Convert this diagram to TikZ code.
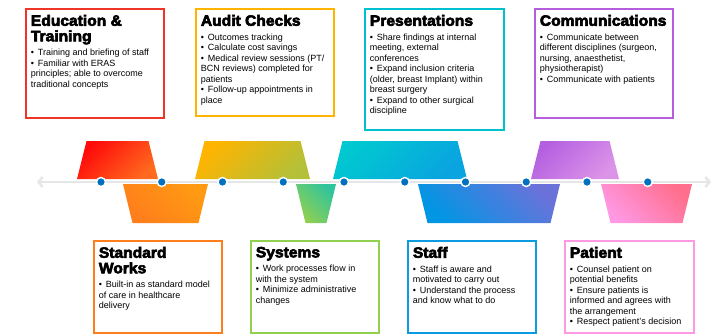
\documentclass[tikz,border=0pt]{standalone}
\usepackage{fontspec}
\setmainfont{Liberation Sans}
\newfontfamily\titlefont{Liberation Sans}[BoldFeatures={FakeBold=4,FakeStretch=1.04}]
\usepackage{tikz}
\usetikzlibrary{arrows.meta}
\definecolor{cred}{HTML}{F0342A}
\definecolor{cyellow}{HTML}{FFB400}
\definecolor{ccyan}{HTML}{00C2CE}
\definecolor{cpurple}{HTML}{B45EDD}
\definecolor{corange}{HTML}{FF7E1C}
\definecolor{cgreen}{HTML}{92D050}
\definecolor{cblue}{HTML}{0A9BE3}
\definecolor{cpink}{HTML}{FF99E4}
\definecolor{dotblue}{HTML}{0070C0}
\definecolor{linegrey}{HTML}{E6E6E6}
% shading ends
\definecolor{redA}{HTML}{FF0A0A}
\definecolor{redB}{HTML}{FF6A1E}
\definecolor{yelB}{HTML}{B4C038}
\definecolor{cyaA}{HTML}{00C8D0}
\definecolor{cyaB}{HTML}{0AA4E0}
\definecolor{purA}{HTML}{B460E0}
\definecolor{purB}{HTML}{DC94E8}
\definecolor{oraB}{HTML}{FF9A12}
\definecolor{greB}{HTML}{30C49C}
\definecolor{bluA}{HTML}{0096E4}
\definecolor{bluB}{HTML}{6A72DA}
\definecolor{pinB}{HTML}{FF6E8C}
\tikzstyle{infobox}=[draw, line width=1.8pt, inner xsep=5pt, inner ysep=6pt, anchor=north west, fill=white]
\tikzstyle{dot}=[circle, fill=dotblue, draw=white, line width=1.4pt, inner sep=0pt, minimum size=9pt]
\tikzstyle{timeline}=[line width=2.5pt, draw=linegrey, {Straight Barb[length=4pt,width=10pt]}-{Straight Barb[length=4pt,width=10pt]}]
\newcommand{\ttl}[1]{{\titlefont\bfseries\fontsize{15}{15.5}\selectfont #1\par}\vspace{4pt}}
\newcommand{\bitem}{\par\hangindent=7pt\hangafter=1\noindent\makebox[7pt][l]{\textbullet}}
\newcommand{\boxtext}[3]{\parbox[c][#1][t]{#2}{\raggedright\fontsize{9}{10.5}\selectfont #3}}
\newcommand{\uptrap}[5]{\shade[top color=#3, middle color=#4, bottom color=#5, shading angle=45]
    (#1,179) -- ({#1+9.5},141) -- ({#2-9.5},141) -- (#2,179) -- cycle;}
\newcommand{\lowtrap}[4]{\shade[top color=#4, middle color=#3, bottom color=#3, shading angle=-45]
    (#1,184) -- ({#1+9.5},223) -- ({#2-9.5},223) -- (#2,184) -- cycle;}

\begin{document}
\begin{tikzpicture}[x=1pt, y=-1pt]
    \useasboundingbox (0,0) rectangle (717,335);
    % upper boxes
    \node[infobox, draw=cred] (edu) at (25,8) {\boxtext{97pt}{128pt}{\ttl{Education \&\\Training}
        \bitem Training and briefing of staff
        \bitem Familiar with ERAS\\principles; able to overcome\\traditional concepts}};
    \node[infobox, draw=cyellow] (audit) at (195,8) {\boxtext{95pt}{128pt}{\ttl{Audit Checks}
        \bitem Outcomes tracking
        \bitem Calculate cost savings
        \bitem Medical review sessions (PT/\\BCN reviews) completed for\\patients
        \bitem Follow-up appointments in\\place}};
    \node[infobox, draw=ccyan] (pres) at (364,8) {\boxtext{109pt}{129pt}{\ttl{Presentations}
        \bitem Share findings at internal\\meeting, external\\conferences
        \bitem Expand inclusion criteria\\(older, breast Implant) within\\breast surgery
        \bitem Expand to other surgical\\discipline}};
    \node[infobox, draw=cpurple] (comm) at (534,8) {\boxtext{97pt}{128pt}{\ttl{Communications}
        \bitem Communicate between\\different disciplines (surgeon,\\nursing, anaesthetist,\\physiotherapist)
        \bitem Communicate with patients}};
    % lower boxes
    \node[infobox, draw=corange] (stdw) at (93,240) {\boxtext{80pt}{118pt}{\ttl{Standard\\Works}
        \bitem Built-in as standard model\\of care in healthcare\\delivery}};
    \node[infobox, draw=cgreen] (sys) at (250,240) {\boxtext{80pt}{118pt}{\ttl{Systems}
        \bitem Work processes flow in\\with the system
        \bitem Minimize administrative\\changes}};
    \node[infobox, draw=cblue] (staff) at (407,240) {\boxtext{80pt}{118pt}{\ttl{Staff}
        \bitem Staff is aware and\\motivated to carry out
        \bitem Understand the process\\and know what to do}};
    \node[infobox, draw=cpink] (pat) at (564,240) {\boxtext{80pt}{119pt}{\ttl{Patient}
        \bitem Counsel patient on\\potential benefits
        \bitem Ensure patients is\\informed and agrees with\\the arrangement
        \bitem Respect patient’s decision}};
    % trapezoids
    \uptrap{77}{158}{redA}{red!50!redB}{redB}
    \uptrap{195}{310}{cyellow}{cyellow}{yelB}
    \uptrap{333}{467}{cyaA}{cyaA}{cyaB}
    \uptrap{531}{619}{purA}{purA}{purB}
    \lowtrap{123}{208}{corange}{oraB}
    \lowtrap{296}{336}{cgreen}{greB}
    \lowtrap{418}{560}{bluA}{bluB}
    \lowtrap{601}{692}{cpink}{pinB}
    % timeline
    \coordinate (tl) at (37,182);
    \coordinate (tr) at (711,182);
    \draw[timeline] (tl) -- (tr);
    \foreach \i in {1,...,10}
        \node[dot] (d\i) at ({40.25+60.75*\i},182) {};
\end{tikzpicture}
\end{document}
